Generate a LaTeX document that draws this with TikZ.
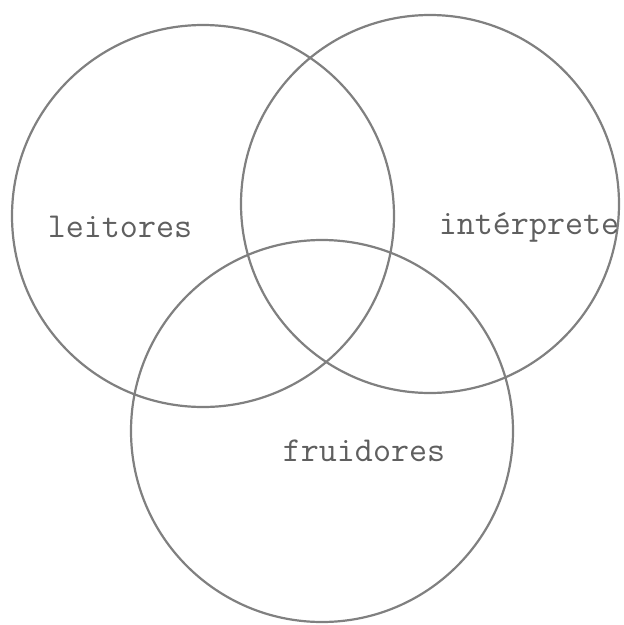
\documentclass[tikz,border=0pt]{standalone}
\definecolor{ring}{RGB}{128,128,128}
\definecolor{ink}{RGB}{95,95,95}
\tikzset{
  ringc/.style={draw=ring, line width=2.2pt, circle, inner sep=0pt},
  lbl/.style={text=ink, font=\ttfamily\fontsize{35}{35}\selectfont, inner sep=0pt}
}
\begin{document}
\begin{tikzpicture}[x=1pt,y=-1pt]
\useasboundingbox[fill=white] (0,0) rectangle (624,625);
\node[ringc, minimum size=382pt] (L) at (203,216) {};
\node[ringc, minimum size=378pt] (R) at (430,204) {};
\node[ringc, minimum size=382pt] (B) at (322,431) {};
\node[lbl] (tl) at (120,227) {leitores};
\node[lbl] (tr) at (529,227) {intérprete};
\node[lbl] (tb) at (364,451) {fruidores};
\end{tikzpicture}
\end{document}
